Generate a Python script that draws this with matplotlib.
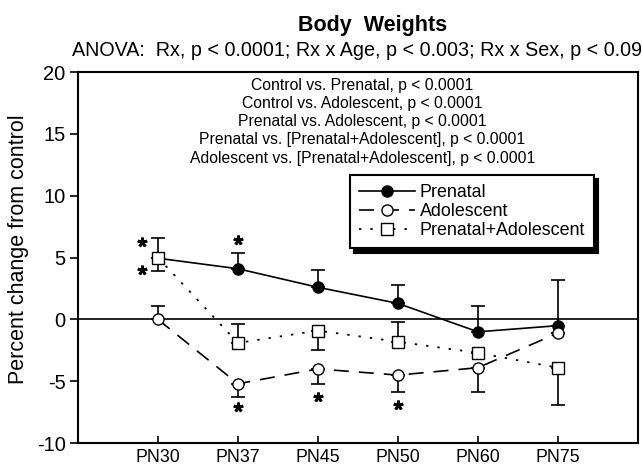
import numpy as np
import matplotlib
matplotlib.use("Agg")
import matplotlib.pyplot as plt

plt.rcParams['font.family'] = ['Liberation Sans', 'DejaVu Sans']
plt.rcParams['axes.unicode_minus'] = False

# ── Data ──────────────────────────────────────────────────────────────────────
ages = ["PN30", "PN37", "PN45", "PN50", "PN60", "PN75"]

prenatal     = [4.95, 4.1, 2.6, 1.3, -1.0, -0.5]
prenatal_err = [1.6, 1.3, 1.4, 1.5, 2.1, 3.7]          # upper only

adolescent     = [0.0, -5.2, -4.0, -4.5, -3.9, -1.1]
adolescent_up  = [1.1, 0, 0, 0, 0, 0]
adolescent_lo  = [0, 1.1, 1.2, 1.4, 2.0, 0]

combined     = [5.0, -1.9, -0.9, -1.8, -2.7, -3.9]
combined_up  = [0, 1.5, 0, 1.6, 0, 0]
combined_lo  = [1.1, 0, 1.6, 0, 0, 3.0]

star_x = [0.8, 0.8, 2, 2, 3, 4]
star_y = [6.3, 4.0, 6.4, -7.1, -6.3, -6.9]

comparisons = [
    "Control vs. Prenatal, p < 0.0001",
    "Control vs. Adolescent, p < 0.0001",
    "Prenatal vs. Adolescent, p < 0.0001",
    "Prenatal vs. [Prenatal+Adolescent], p < 0.0001",
    "Adolescent vs. [Prenatal+Adolescent], p < 0.0001",
]

x = np.arange(1, len(ages) + 1)

# ── Figure ────────────────────────────────────────────────────────────────────
fig = plt.figure(figsize=(6.42, 4.65), dpi=100)
ax = fig.add_axes([0.1215, 0.047, 0.872, 0.798])

ax.axhline(0, color='black', lw=1.2, zorder=1)

eb = dict(fmt='none', capsize=5, elinewidth=1.2, capthick=1.2, ecolor='black')
ax.errorbar(x, prenatal, yerr=[np.zeros(len(x)), prenatal_err], zorder=3, **eb)
ax.errorbar(x, adolescent, yerr=[adolescent_lo, adolescent_up], zorder=3, **eb)
ax.errorbar(x, combined, yerr=[combined_lo, combined_up], zorder=3, **eb)

ax.plot(x, prenatal, color='black', lw=1.2, marker='o', ms=8,
        mfc='black', mec='black', label='Prenatal', zorder=4)
ax.plot(x, adolescent, color='black', lw=1.2, dashes=(9, 6), marker='o', ms=8,
        mfc='white', mec='black', label='Adolescent', zorder=5)
ax.plot(x, combined, color='black', lw=1.3, dashes=(1.3, 5), marker='s', ms=8,
        mfc='white', mec='black', label='Prenatal+Adolescent', zorder=6)

ax.plot(star_x, star_y, ls='none', marker=(5, 2, 0), ms=7, mew=2,
        color='black', zorder=7)

for i, line in enumerate(comparisons):
    ax.text(0.508, (443 - 85 - i * 18.3) / 371, line, transform=ax.transAxes,
            ha='center', va='center', fontsize=11.3)

ax.set_xlim(0, 7)
ax.set_ylim(-10, 20)
ax.set_xticks(x)
ax.set_xticklabels(ages, fontsize=12.8)
ax.set_yticks(range(-10, 21, 5))
ax.tick_params(axis='y', direction='out', length=6, width=1.2, labelsize=14.5, pad=3)
ax.tick_params(axis='x', direction='in', length=5, width=1.2, pad=4)
for s in ax.spines.values():
    s.set_linewidth(1.5)

ax.set_ylabel("Percent change from control", fontsize=15.5)
ax.yaxis.set_label_coords(-0.087, 0.523)

leg = ax.legend(loc='upper left', bbox_to_anchor=(0.486, 0.722),
                fontsize=12.9, frameon=True, fancybox=False,
                edgecolor='black', handlelength=3.1, borderpad=0.5,
                labelspacing=0.12, handletextpad=0.28, borderaxespad=0,
                shadow={'color': 'black', 'alpha': 1, 'ox': 3, 'oy': -3})
leg.get_frame().set_linewidth(1.5)
leg.get_frame().set_alpha(1)

fig.text(0.58, 1 - 25 / 465, "Body  Weights", ha='center', va='center',
         fontsize=15.5, fontweight='bold')
fig.text(72 / 642, 1 - 50 / 465,
         "ANOVA:  Rx, p < 0.0001; Rx x Age, p < 0.003; Rx x Sex, p < 0.09",
         ha='left', va='center', fontsize=14.2)

fig.savefig("out.png", dpi=100)
